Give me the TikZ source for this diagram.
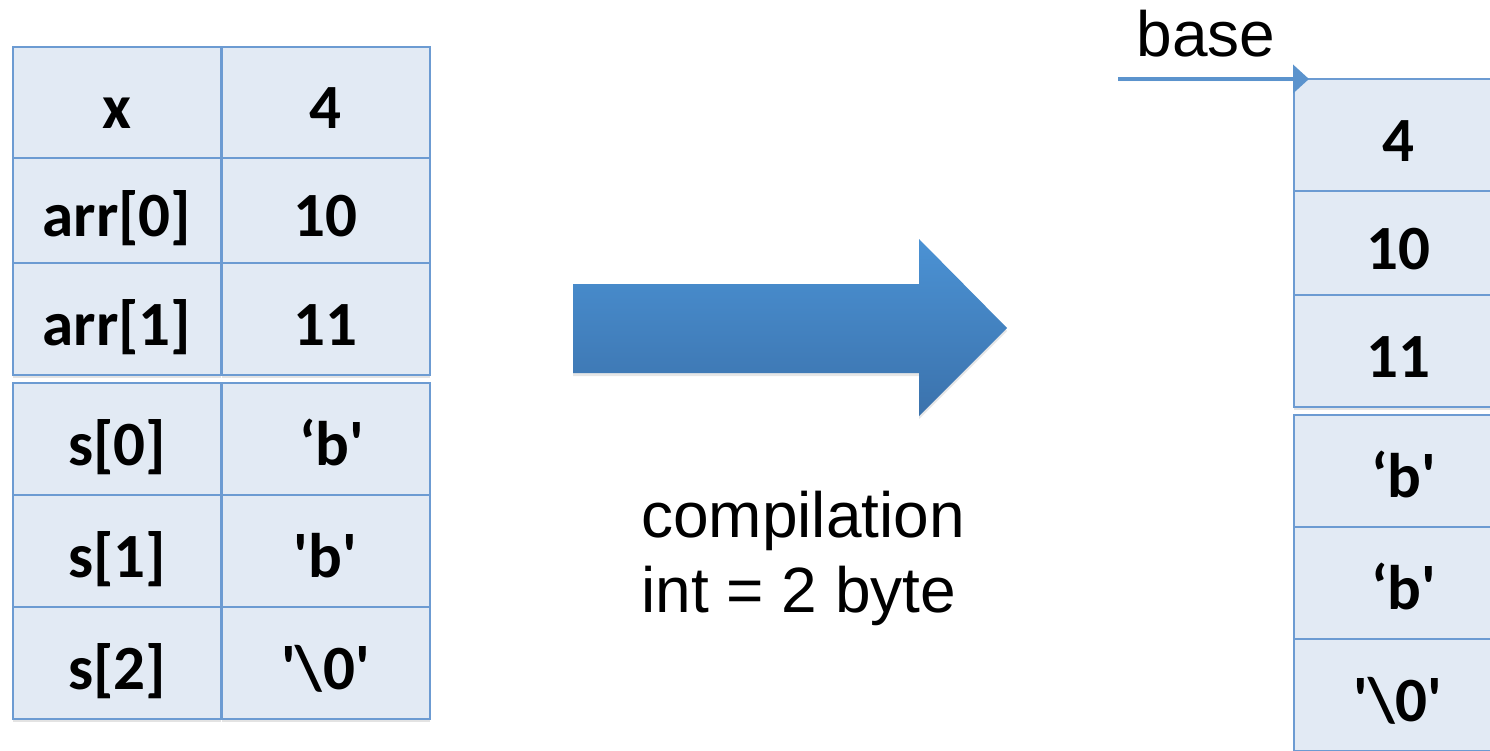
\documentclass[tikz,border=0pt]{standalone}
\usepackage{fontspec}
\setmainfont{Liberation Sans}
\newfontfamily\cellfont{Carlito}[Ligatures=TeXOff]
\usetikzlibrary{shadows,arrows.meta}
\definecolor{cellfill}{HTML}{E2EAF4}
\definecolor{celledge}{HTML}{6C9BD2}
\definecolor{arrowtop}{HTML}{4B92D4}
\definecolor{arrowbot}{HTML}{3B72AC}
\definecolor{pointer}{HTML}{5B93CD}
\newcommand{\straightq}{\char"0027}
\newcommand{\openq}{\char"2018}
\newcommand{\lead}{\hspace*{12pt}}
\begin{document}
\begin{tikzpicture}[x=1pt,y=-1pt,
  cell/.style={draw=celledge, line width=2pt, fill=cellfill,
    minimum width=208pt, inner sep=0pt,
    font=\cellfont\bfseries\fontsize{63pt}{70pt}\selectfont,
    text height=60pt, text depth=8pt,
    drop shadow={opacity=0.22, shadow xshift=0pt, shadow yshift=-3pt}},
  tall/.style={minimum height=112pt},
  short/.style={minimum height=105pt},
  plain/.style={font=\fontsize{64pt}{75pt}\selectfont, inner sep=0pt},
]
\useasboundingbox (0,0) rectangle (1490,750);
\clip (0,0) rectangle (1490,750);

% source table: names and values
\node[cell,tall]  (n1) at (117,102.5) {x};
\node[cell,tall]  (v1) at (325.5,102.5) {4};
\node[cell,short] (n2) at (117,210.5) {arr[0]};
\node[cell,short] (v2) at (325.5,210.5) {10};
\node[cell,tall]  (n3) at (117,319) {arr[1]};
\node[cell,tall]  (v3) at (325.5,319) {11};
\node[cell,tall]  (n4) at (117,439) {s[0]};
\node[cell,tall]  (v4) at (325.5,439) {\lead\openq b\straightq};
\node[cell,tall]  (n5) at (117,551) {s[1]};
\node[cell,tall]  (v5) at (325.5,551) {\straightq b\straightq};
\node[cell,tall]  (n6) at (117,663) {s[2]};
\node[cell,tall]  (v6) at (325.5,663) {\straightq\textbackslash 0\straightq};

% compilation arrow
\shade[top color=arrowtop, bottom color=arrowbot,
  drop shadow={opacity=0.2, shadow xshift=0pt, shadow yshift=-3pt}]
  (573,284) -- (919,284) -- (919,239) -- (1007,328) -- (919,416)
  -- (919,373) -- (573,373) -- cycle;
\node[plain, anchor=base west] (comp) at (641,537) {compilation};
\node[plain, anchor=base west] (isz) at (641,612) {int = 2 byte};

% memory layout after compilation
\node[cell,tall]  (m1) at (1398,135) {4};
\node[cell,short] (m2) at (1398,243) {10};
\node[cell,tall]  (m3) at (1398,351) {11};
\node[cell,tall]  (m4) at (1398,471) {\lead\openq b\straightq};
\node[cell,tall]  (m5) at (1398,583) {\lead\openq b\straightq};
\node[cell,tall]  (m6) at (1398,695) {\straightq\textbackslash 0\straightq};

% base pointer
\node[plain, anchor=base] (basetxt) at (1206,56) {base};
\coordinate (bstart) at (1118,79);
\draw[pointer, line width=4.5pt,
  -{Triangle[length=16pt,width=28pt]},
  drop shadow={opacity=0.2, shadow xshift=0pt, shadow yshift=-2pt},
  shorten >=-16pt] (bstart) -- (bstart -| m1.west);
\end{tikzpicture}
\end{document}
